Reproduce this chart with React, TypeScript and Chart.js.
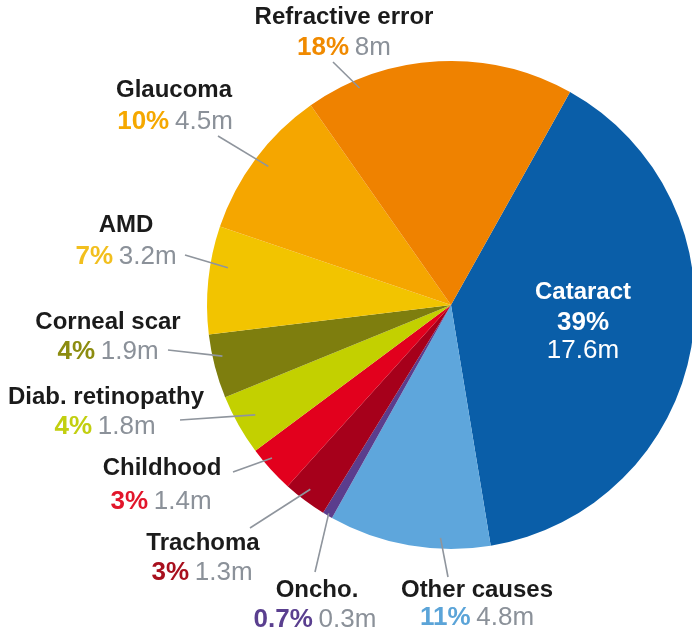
import { useEffect, useRef } from "react";
import { Chart, registerables } from "chart.js";

Chart.register(...registerables);

const causes = [
  "Cataract",
  "Other causes",
  "Oncho.",
  "Trachoma",
  "Childhood",
  "Diab. retinopathy",
  "Corneal scar",
  "AMD",
  "Glaucoma",
  "Refractive error",
];
const millions = [17.6, 4.8, 0.3, 1.3, 1.4, 1.8, 1.9, 3.2, 4.5, 8];
const percentLabels = ["39%", "11%", "0.7%", "3%", "3%", "4%", "4%", "7%", "10%", "18%"];
const valueLabels = ["17.6m", "4.8m", "0.3m", "1.3m", "1.4m", "1.8m", "1.9m", "3.2m", "4.5m", "8m"];
const sliceColors = [
  "#0a5ea8",
  "#5ea6dc",
  "#5b3d8d",
  "#a6001b",
  "#e2001d",
  "#c3d000",
  "#7e7e0e",
  "#f2c400",
  "#f5a600",
  "#ef8200",
];
const percentColors = [
  "#ffffff",
  "#5ba4d8",
  "#5a3f8f",
  "#a8101e",
  "#e2162b",
  "#c2cf10",
  "#8c8c10",
  "#f2bf1e",
  "#f5a800",
  "#f08a00",
];

// label layout: name centre, value-line centre, leader end, leader start inside slice (t along angle, r fraction of radius)
const labelLayout = [
  { nx: 583, ny: 292, vx: 583, vy: 323, inside: true },
  { nx: 477, ny: 590, vx: 477, vy: 618, lx: 448, ly: 577, t: 0.31, r: 0.955 },
  { nx: 317, ny: 590, vx: 315, vy: 620, lx: 315, ly: 572, t: 0.5, r: 0.99 },
  { nx: 203, ny: 543, vx: 202, vy: 573, lx: 250, ly: 528, t: 0.55, r: 0.95 },
  { nx: 162, ny: 468, vx: 161, vy: 502, lx: 233, ly: 472, t: 0.66, r: 0.965 },
  { nx: 106, ny: 397, vx: 105, vy: 427, lx: 180, ly: 420, t: 0.51, r: 0.92 },
  { nx: 108, ny: 322, vx: 108, vy: 352, lx: 168, ly: 350, t: 0.63, r: 0.96 },
  { nx: 126, ny: 225, vx: 126, vy: 257, lx: 185, ly: 255, t: 0.64, r: 0.927 },
  { nx: 174, ny: 90, vx: 175, vy: 122, lx: 218, ly: 136, t: 0.51, r: 0.94 },
  { nx: 344, ny: 17, vx: 344, vy: 48, lx: 333, ly: 62, t: 0.19, r: 0.965 },
];

const FONT = '"Liberation Sans", Arial, sans-serif';
const SIZE = 24;
const VSIZE = 26;

const labelPlugin = {
  id: "sliceLabels",
  afterDatasetsDraw(chart: any) {
    const ctx = chart.ctx as CanvasRenderingContext2D;
    const meta = chart.getDatasetMeta(0);
    ctx.save();
    meta.data.forEach((arc: any, i: number) => {
      const L = labelLayout[i];
      const p = arc.getProps(["x", "y", "startAngle", "endAngle", "outerRadius"], true);
      if (!L.inside) {
        const a = p.startAngle + (L.t as number) * (p.endAngle - p.startAngle);
        const px = p.x + Math.cos(a) * (L.r as number) * p.outerRadius;
        const py = p.y + Math.sin(a) * (L.r as number) * p.outerRadius;
        ctx.strokeStyle = "#8f959d";
        ctx.lineWidth = 1.6;
        ctx.beginPath();
        ctx.moveTo(L.lx as number, L.ly as number);
        ctx.lineTo(px, py);
        ctx.stroke();
      }
      ctx.textBaseline = "middle";
      if (L.inside) {
        ctx.fillStyle = "#ffffff";
        ctx.textAlign = "center";
        ctx.font = `bold ${SIZE}px ${FONT}`;
        ctx.fillText(causes[i], L.nx, L.ny);
        ctx.font = `bold ${VSIZE}px ${FONT}`;
        ctx.fillText(percentLabels[i], L.vx, L.vy);
        ctx.font = `${VSIZE}px ${FONT}`;
        ctx.fillText(valueLabels[i], L.vx, L.vy + 28);
        return;
      }
      ctx.textAlign = "center";
      ctx.fillStyle = "#1b1b1b";
      ctx.font = `bold ${SIZE}px ${FONT}`;
      ctx.fillText(causes[i], L.nx, L.ny);
      ctx.textAlign = "left";
      ctx.font = `bold ${VSIZE}px ${FONT}`;
      const w1 = ctx.measureText(percentLabels[i]).width;
      ctx.font = `${VSIZE}px ${FONT}`;
      const ws = ctx.measureText(" ").width * 0.8;
      const w2 = ctx.measureText(valueLabels[i]).width;
      const x0 = L.vx - (w1 + ws + w2) / 2;
      ctx.font = `bold ${VSIZE}px ${FONT}`;
      ctx.fillStyle = percentColors[i];
      ctx.fillText(percentLabels[i], x0, L.vy);
      ctx.font = `${VSIZE}px ${FONT}`;
      ctx.fillStyle = "#8b9199";
      ctx.fillText(valueLabels[i], x0 + w1 + ws, L.vy);
    });
    ctx.restore();
  },
};

export default function App() {
  const ref = useRef<HTMLCanvasElement | null>(null);
  useEffect(() => {
    if (!ref.current) return;
    const chart = new Chart(ref.current, {
      type: "pie",
      data: {
        labels: causes,
        datasets: [
          {
            data: millions,
            backgroundColor: sliceColors,
            borderWidth: 0,
          },
        ],
      },
      options: {
        responsive: false,
        animation: false,
        rotation: 29.2,
        layout: { padding: { left: 207, top: 61, right: 5, bottom: 86 } },
        plugins: {
          legend: { display: false },
          tooltip: { enabled: false },
        },
      },
      plugins: [labelPlugin],
    });
    return () => chart.destroy();
  }, []);
  return (
    <div
      style={{
        position: "fixed",
        left: 0,
        top: 0,
        width: 692,
        height: 635,
        overflow: "hidden",
        background: "#ffffff",
      }}
    >
      <canvas ref={ref} width={700} height={635} style={{ width: 700, height: 635, display: "block" }} />
    </div>
  );
}
